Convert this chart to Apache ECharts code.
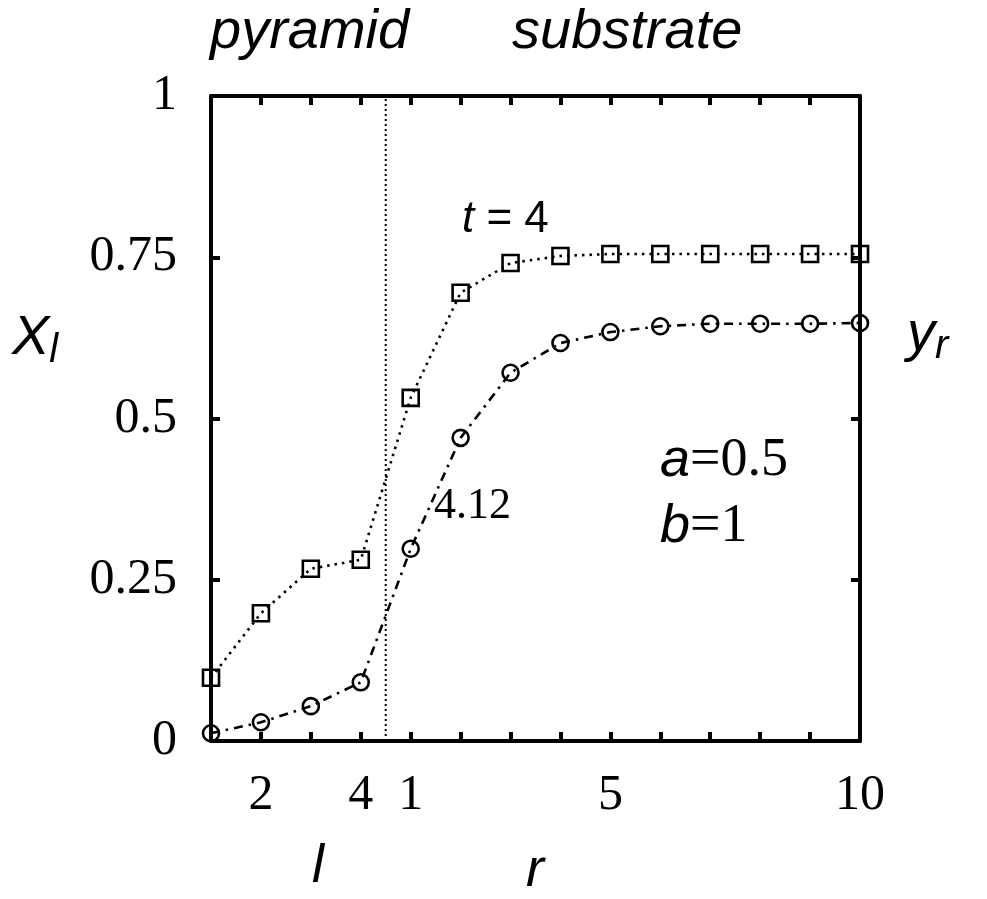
<!DOCTYPE html>
<html>
<head>
<meta charset="utf-8">
<script src="https://cdn.jsdelivr.net/npm/echarts@6/dist/echarts.min.js"></script>
<style>html,body{margin:0;padding:0;background:#fff;}#c{width:987px;height:899px;}</style>
</head>
<body>
<div id="c"></div>
<script>
// x positions: pyramid l=1..4 -> 0..3, substrate r=1..10 -> 4..13
const xPos = [0, 1, 2, 3, 4, 5, 6, 7, 8, 9, 10, 11, 12, 13];
const squareVals = [0.098, 0.198, 0.267, 0.281, 0.532, 0.695, 0.741, 0.752, 0.755, 0.755, 0.755, 0.755, 0.755, 0.755];
const circleVals = [0.012, 0.029, 0.054, 0.091, 0.298, 0.470, 0.571, 0.617, 0.634, 0.643, 0.647, 0.647, 0.647, 0.648];
const dividerX = 3.5;
const xTickPos = [1, 3, 4, 8, 13];
const xTickLabels = ['2', '4', '1', '5', '10'];
const yTickVals = [0, 0.25, 0.5, 0.75, 1];
const yTickLabels = ['0', '0.25', '0.5', '0.75', '1'];

const serif = '"Liberation Serif", "DejaVu Serif", serif';
const sans = '"Liberation Sans", Arial, sans-serif';

const chart = echarts.init(document.getElementById('c'), null, {renderer: 'canvas'});

function xLabel(v) {
  const i = xTickPos.indexOf(Math.round(v));
  return i >= 0 && Math.abs(v - Math.round(v)) < 1e-6 ? xTickLabels[i] : '';
}
function yLabel(v) {
  for (let i = 0; i < yTickVals.length; i++) if (Math.abs(v - yTickVals[i]) < 1e-6) return yTickLabels[i];
  return '';
}

const tickStyle = {show: true, inside: true, length: 9, lineStyle: {color: '#000', width: 4}};
const lineStyleAxis = {show: true, onZero: false, lineStyle: {color: '#000', width: 4}};

chart.setOption({
  animation: false,
  backgroundColor: '#fff',
  grid: {left: 211, top: 96, right: 127, bottom: 158, show: false},
  xAxis: [
    {type: 'value', min: 0, max: 13, interval: 1, position: 'bottom',
     axisLine: lineStyleAxis, splitLine: {show: false}, axisTick: tickStyle,
     axisLabel: {formatter: xLabel, color: '#000', fontFamily: serif, fontSize: 50, margin: 30, showMinLabel: true, showMaxLabel: true}},
    {type: 'value', min: 0, max: 13, interval: 1, position: 'top',
     axisLine: lineStyleAxis, splitLine: {show: false}, axisTick: tickStyle, axisLabel: {show: false}}
  ],
  yAxis: [
    {type: 'value', min: 0, max: 1, interval: 0.25, position: 'left',
     axisLine: lineStyleAxis, splitLine: {show: false}, axisTick: tickStyle,
     axisLabel: {formatter: yLabel, color: '#000', fontFamily: serif, fontSize: 50, margin: 34}},
    {type: 'value', min: 0, max: 1, interval: 0.25, position: 'right',
     axisLine: lineStyleAxis, splitLine: {show: false}, axisTick: tickStyle, axisLabel: {show: false}}
  ],
  series: [
    {type: 'line', data: [[dividerX, 0], [dividerX, 1]], symbol: 'none', silent: true,
     lineStyle: {color: '#000', width: 2, type: [2, 3]}, z: 1},
    {type: 'line', data: xPos.map((x, i) => [x, squareVals[i]]), symbol: 'rect', symbolSize: 16,
     itemStyle: {color: 'rgba(0,0,0,0)', borderColor: '#000', borderWidth: 2.6},
     lineStyle: {color: '#000', width: 2.6, type: [2.5, 5]}, z: 3},
    {type: 'line', data: xPos.map((x, i) => [x, circleVals[i]]), symbol: 'circle', symbolSize: 16,
     itemStyle: {color: 'rgba(0,0,0,0)', borderColor: '#000', borderWidth: 2.6},
     lineStyle: {color: '#000', width: 2.6, type: [9, 6, 2.5, 6]}, z: 3}
  ],
  graphic: [
    {type: 'text', left: 210, top: 4, style: {text: 'pyramid', font: 'italic 56px ' + sans, fill: '#000'}},
    {type: 'text', left: 512, top: 4, style: {text: 'substrate', font: 'italic 56px ' + sans, fill: '#000'}},
    {type: 'text', left: 12, top: 310, style: {rich: {
      m: {font: 'italic 56px ' + sans, fill: '#000'},
      s: {font: 'italic 40px ' + sans, fill: '#000', padding: [26, 0, 0, 0]}
    }, text: '{m|X}{s|l}'}},
    {type: 'text', left: 907, top: 306, style: {rich: {
      m: {font: 'italic 56px ' + sans, fill: '#000'},
      s: {font: 'italic 40px ' + sans, fill: '#000', padding: [26, 0, 0, 0]}
    }, text: '{m|y}{s|r}'}},
    {type: 'text', left: 312, top: 840, style: {text: 'l', font: 'italic 54px ' + sans, fill: '#000'}},
    {type: 'text', left: 526, top: 844, style: {text: 'r', font: 'italic 54px ' + sans, fill: '#000'}},
    {type: 'text', left: 462, top: 198, style: {rich: {
      i: {font: 'italic 44px ' + sans, fill: '#000'},
      n: {font: '44px ' + sans, fill: '#000'}
    }, text: '{i|t}{n| = 4}'}},
    {type: 'text', left: 434, top: 484, style: {text: '4.12', font: '44px ' + serif, fill: '#000'}},
    {type: 'text', left: 660, top: 434, style: {rich: {
      i: {font: 'italic 54px ' + sans, fill: '#000'},
      n: {font: '54px ' + serif, fill: '#000'}
    }, text: '{i|a}{n|=0.5}'}},
    {type: 'text', left: 660, top: 500, style: {rich: {
      i: {font: 'italic 54px ' + sans, fill: '#000'},
      n: {font: '54px ' + serif, fill: '#000'}
    }, text: '{i|b}{n|=1}'}}
  ]
});
</script>
</body>
</html>
